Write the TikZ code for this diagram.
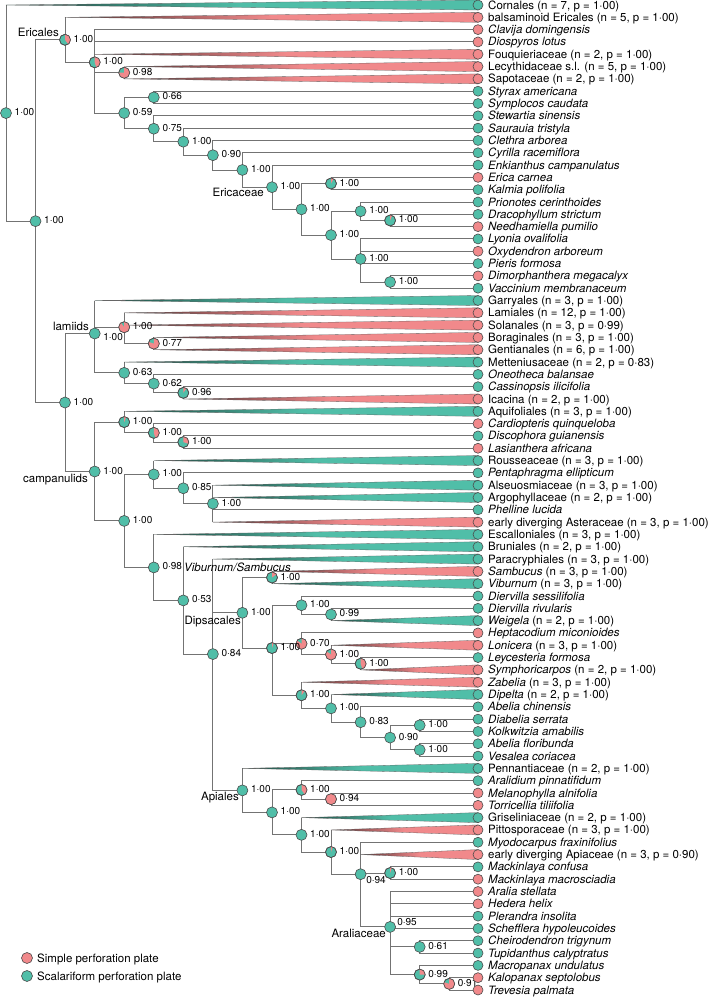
\documentclass[tikz,border=0pt]{standalone}
\usepackage{fontspec}
\setmainfont{TeX Gyre Heros}
\usetikzlibrary{positioning}
\definecolor{pinkplate}{RGB}{241,137,139}
\definecolor{tealplate}{RGB}{80,190,168}

\begin{document}
\begin{tikzpicture}[x=1pt, y=-1pt,
    branch/.style={draw=black!55, line width=0.9pt},
    clade/.style={draw=black!60, line width=0.3pt},
    nodering/.style={draw=black!70, line width=0.6pt},
    tiplabel/.style={inner sep=0pt, font=\fontsize{11.5}{13}\selectfont, text height=9pt, text depth=1pt},
    support/.style={inner sep=0pt, font=\fontsize{10}{12}\selectfont, text height=7pt, text depth=0pt},
    cladename/.style={inner sep=0pt, font=\fontsize{11.5}{13}\selectfont}]
      \path[use as bounding box, fill=white] (0,0) rectangle (711,997);

      % tips
      \foreach \i in {1,...,81}
        \coordinate (t\i) at (478, {5+(\i-1)*12.3125});

      % internal nodes
      \coordinate (nR)  at (6, 113.08);
      \coordinate (nS)  at (35.5, 221.15);
      \coordinate (nA)  at (65, 39.8);
      \coordinate (nB)  at (94.7, 62.32);
      \coordinate (nC)  at (124.2, 72.72);
      \coordinate (nD)  at (124.2, 113.04);
      \coordinate (nE)  at (153.8, 97.34);
      \coordinate (nF)  at (153.8, 128.74);
      \coordinate (nG)  at (183.3, 141.67);
      \coordinate (nH)  at (212.9, 155.2);
      \coordinate (nI)  at (242.4, 169.97);
      \coordinate (nJ)  at (272, 187.19);
      \coordinate (nK)  at (301.5, 209.31);
      \coordinate (nL)  at (331, 183.53);
      \coordinate (nM)  at (331, 235.09);
      \coordinate (nN)  at (360.6, 211.23);
      \coordinate (nP)  at (390.1, 220.47);
      \coordinate (nO)  at (360.6, 258.95);
      \coordinate (nQ)  at (390.1, 282.03);
      \coordinate (nT)  at (65, 402.5);
      \coordinate (nU)  at (94.7, 333.51);
      \coordinate (nW)  at (124.2, 327.18);
      \coordinate (nY)  at (153.8, 343.6);
      \coordinate (nX)  at (124.2, 372.84);
      \coordinate (nZ)  at (153.8, 383.61);
      \coordinate (nAA) at (183.3, 392.85);
      \coordinate (nV)  at (94.7, 471.5);
      \coordinate (nAB) at (124.2, 422.09);
      \coordinate (nAD) at (153.8, 432.86);
      \coordinate (nAE) at (183.3, 442.1);
      \coordinate (nAC) at (124.2, 520.92);
      \coordinate (nAF) at (153.8, 474.41);
      \coordinate (nAH) at (183.3, 488.27);
      \coordinate (nAI) at (212.9, 503.66);
      \coordinate (nAG) at (153.8, 567.43);
      \coordinate (nAJ) at (183.3, 600.42);
      \coordinate (nAK) at (212.9, 654.08);
      \coordinate (nAL) at (242.4, 612.8);
      \coordinate (nAN) at (272, 577.53);
      \coordinate (nAO) at (272, 648.07);
      \coordinate (nAP) at (301.5, 605.24);
      \coordinate (nAS) at (331, 614.47);
      \coordinate (nAQ) at (301.5, 643.71);
      \coordinate (nAT) at (331, 654.49);
      \coordinate (nAU) at (360.6, 663.72);
      \coordinate (nAR) at (301.5, 695.27);
      \coordinate (nAV) at (331, 708.35);
      \coordinate (nAW) at (360.6, 722.2);
      \coordinate (nAX) at (390.1, 737.59);
      \coordinate (nAY) at (419.7, 725.28);
      \coordinate (nAZ) at (419.7, 749.9);
      \coordinate (nAM) at (242.4, 790.38);
      \coordinate (nBA) at (272, 812.39);
      \coordinate (nBB) at (301.5, 789.93);
      \coordinate (nBD) at (331, 799.16);
      \coordinate (nBC) at (301.5, 834.85);
      \coordinate (nBE) at (331, 852.06);
      \coordinate (nBF) at (360.6, 874.19);
      \coordinate (nBG) at (390.1, 873.03);
      \coordinate (nBH) at (390.1, 926.9);
      \coordinate (nBI) at (419.7, 946.9);
      \coordinate (nBJ) at (419.7, 974.61);
      \coordinate (nBK) at (449.2, 983.84);

      % branches
      \foreach \p/\c in {nR/nS, nS/nA, nS/nT, nA/nB, nB/t3, nB/t4, nB/nC, nB/nD,
          nD/nE, nD/nF, nE/t8, nE/t9, nF/t10, nF/nG, nG/t11, nG/nH, nH/t12, nH/nI,
          nI/t13, nI/nJ, nJ/t14, nJ/nK, nK/nL, nK/nM, nL/t15, nL/t16, nM/nN, nM/nO,
          nN/t17, nN/nP, nP/t18, nP/t19, nO/t20, nO/t21, nO/t22, nO/nQ, nQ/t23, nQ/t24,
          nT/nU, nT/nV, nU/nW, nU/nX, nW/nY, nX/nZ, nZ/t31, nZ/nAA, nAA/t32,
          nV/nAB, nV/nAC, nAB/nAD, nAD/t35, nAD/nAE, nAE/t36, nAE/t37, nAC/nAF, nAC/nAG,
          nAF/nAH, nAH/t39, nAH/nAI, nAI/t42, nAG/nAJ, nAJ/nAK, nAK/nAL, nAK/nAM,
          nAL/nAN, nAL/nAO, nAO/nAP, nAO/nAQ, nAO/nAR, nAP/t49, nAP/nAS, nAS/t50,
          nAQ/t52, nAQ/nAT, nAT/nAU, nAU/t54, nAR/nAV, nAV/nAW, nAW/t58, nAW/nAX,
          nAX/nAY, nAX/nAZ, nAY/t59, nAY/t60, nAZ/t61, nAZ/t62,
          nAM/nBA, nBA/nBB, nBA/nBC, nBB/t64, nBB/nBD, nBD/t65, nBD/t66, nBC/nBE,
          nBE/nBF, nBF/t69, nBF/nBG, nBF/nBH, nBG/t71, nBG/t72, nBH/t73, nBH/t74,
          nBH/t75, nBH/t76, nBH/nBI, nBH/nBJ, nBI/t77, nBI/t78, nBJ/t79, nBJ/nBK,
          nBK/t80, nBK/t81}
        \draw[branch] (\p) |- (\c);

      % collapsed clades
      \foreach \p/\t/\col in {nR/t1/tealplate, nA/t2/pinkplate, nB/t5/pinkplate,
          nC/t6/pinkplate, nC/t7/pinkplate, nU/t25/tealplate, nW/t26/pinkplate,
          nW/t27/pinkplate, nY/t28/pinkplate, nY/t29/pinkplate, nX/t30/tealplate,
          nAA/t33/pinkplate, nAB/t34/tealplate, nAF/t38/tealplate, nAI/t40/tealplate,
          nAI/t41/tealplate, nAI/t43/pinkplate, nAG/t44/tealplate, nAJ/t45/tealplate,
          nAK/t46/tealplate, nAN/t47/pinkplate, nAN/t48/tealplate, nAS/t51/tealplate,
          nAT/t53/pinkplate, nAU/t55/pinkplate, nAR/t56/pinkplate, nAV/t57/tealplate,
          nAM/t63/tealplate, nBC/t67/tealplate, nBE/t68/pinkplate, nBF/t70/pinkplate} {
        \draw[branch] (\p) -- (\p |- \t);
        \shade[clade, left color=\col!35!black, right color=\col, middle color=\col]
          (\p |- \t) -- ([yshift=5pt]\t) -- ([yshift=-5pt]\t) -- cycle;
      }

      % node pies
      \foreach \n in {nR,nS,nA,nB,nC,nD,nE,nF,nG,nH,nI,nJ,nK,nL,nM,nN,nP,nO,nQ,
          nT,nU,nW,nY,nX,nZ,nAA,nV,nAB,nAD,nAE,nAC,nAF,nAH,nAI,nAG,nAJ,nAK,nAL,
          nAN,nAO,nAP,nAS,nAQ,nAT,nAU,nAR,nAV,nAW,nAX,nAY,nAZ,
          nAM,nBA,nBB,nBD,nBC,nBE,nBF,nBG,nBH,nBI,nBJ,nBK}
        \draw[nodering, fill=tealplate] (\n) circle[radius=5.5];
      \foreach \n/\f in {nA/0.4, nB/0.45, nC/0.75, nL/0.08, nP/0.06, nW/0.9, nY/0.8,
          nAA/0.1, nAB/0.06, nAD/0.45, nAE/0.3, nAN/0.15, nAO/0.05, nAQ/0.85,
          nAT/0.85, nAU/0.45, nAR/0.1, nBB/0.4, nBD/1, nBE/0.05, nBG/0.05,
          nBJ/0.25, nBK/0.8} {
        \fill[pinkplate] (\n) -- ++(-90:5.5) arc[start angle=-90, delta angle={360*\f}, radius=5.5] -- cycle;
        \draw[nodering] (\n) circle[radius=5.5];
      }

      % support values
      \foreach \n/\v in {nR/1·00, nS/1·00, nA/1·00, nB/1·00, nC/0·98, nD/0·59, nE/0·66,
          nF/0·75, nG/1·00, nH/0·90, nI/1·00, nJ/1·00, nK/1·00, nL/1·00, nM/1·00,
          nN/1·00, nP/1·00, nO/1·00, nQ/1·00, nT/1·00, nW/1·00, nY/0·77,
          nX/0·63, nZ/0·62, nAA/0·96, nV/1·00, nAB/1·00, nAD/1·00, nAE/1·00, nAC/1·00,
          nAF/1·00, nAH/0·85, nAI/1·00, nAG/0·98, nAJ/0·53, nAK/0·84, nAL/1·00,
          nAN/1·00, nAO/1·00, nAP/1·00, nAS/0·99, nAQ/0·70, nAT/1·00, nAU/1·00,
          nAR/1·00, nAV/1·00, nAW/0·83, nAX/0·90, nAY/1·00, nAZ/1·00, nAM/1·00,
          nBA/1·00, nBB/1·00, nBD/0·94, nBC/1·00, nBE/1·00, nBG/1·00, nBI/0·61,
          nBJ/0·99, nBK/0·91}
        \node[support, right=8.5pt of \n, yshift=1pt] (s\n) {\v};
      \node[support, right=8.5pt of nU, yshift=-3pt] (snU) {1·00};
      \node[support, right=5.5pt of nBF, yshift=-6pt] (snBF) {0·94};
      \node[support, right=7pt of nBH, yshift=5pt] (snBH) {0·95};

      % clade names
      \node[cladename, anchor=east] (cEricales) at (59,32) {Ericales};
      \node[cladename, anchor=east] (cEricaceae) at (264,192) {Ericaceae};
      \node[cladename, anchor=east] (clamiids) at (89,326) {lamiids};
      \node[cladename, anchor=east] (ccampanulids) at (88,480) {campanulids};
      \node[cladename, anchor=west] (cViburnum) at (184,567) {\textit{Viburnum/Sambucus}};
      \node[cladename, anchor=east] (cDipsacales) at (241,622) {Dipsacales};
      \node[cladename, anchor=east] (cApiales) at (239,798) {Apiales};
      \node[cladename, anchor=east] (cAraliaceae) at (386,933) {Araliaceae};

      % tip dots and names
      \foreach \i/\col/\txt in {
          1/tealplate/{Cornales (n = 7, p = 1·00)},
          2/pinkplate/{balsaminoid Ericales (n = 5, p = 1·00)},
          3/pinkplate/{\textit{Clavija domingensis}},
          4/pinkplate/{\textit{Diospyros lotus}},
          5/pinkplate/{Fouquieriaceae (n = 2, p = 1·00)},
          6/pinkplate/{Lecythidaceae s.l. (n = 5, p = 1·00)},
          7/pinkplate/{Sapotaceae (n = 2, p = 1·00)},
          8/tealplate/{\textit{Styrax americana}},
          9/tealplate/{\textit{Symplocos caudata}},
          10/tealplate/{\textit{Stewartia sinensis}},
          11/tealplate/{\textit{Saurauia tristyla}},
          12/tealplate/{\textit{Clethra arborea}},
          13/tealplate/{\textit{Cyrilla racemiflora}},
          14/tealplate/{\textit{Enkianthus campanulatus}},
          15/pinkplate/{\textit{Erica carnea}},
          16/tealplate/{\textit{Kalmia polifolia}},
          17/tealplate/{\textit{Prionotes cerinthoides}},
          18/tealplate/{\textit{Dracophyllum strictum}},
          19/pinkplate/{\textit{Needhamiella pumilio}},
          20/tealplate/{\textit{Lyonia ovalifolia}},
          21/pinkplate/{\textit{Oxydendron arboreum}},
          22/tealplate/{\textit{Pieris formosa}},
          23/pinkplate/{\textit{Dimorphanthera megacalyx}},
          24/tealplate/{\textit{Vaccinium membranaceum}},
          25/tealplate/{Garryales (n = 3, p = 1·00)},
          26/pinkplate/{Lamiales (n = 12, p = 1·00)},
          27/pinkplate/{Solanales (n = 3, p = 0·99)},
          28/pinkplate/{Boraginales (n = 3, p = 1·00)},
          29/pinkplate/{Gentianales (n = 6, p = 1·00)},
          30/tealplate/{Metteniusaceae (n = 2, p = 0·83)},
          31/tealplate/{\textit{Oneotheca balansae}},
          32/tealplate/{\textit{Cassinopsis ilicifolia}},
          33/pinkplate/{Icacina (n = 2, p = 1·00)},
          34/tealplate/{Aquifoliales (n = 3, p = 1·00)},
          35/pinkplate/{\textit{Cardiopteris quinqueloba}},
          36/tealplate/{\textit{Discophora guianensis}},
          37/pinkplate/{\textit{Lasianthera africana}},
          38/tealplate/{Rousseaceae (n = 3, p = 1·00)},
          39/tealplate/{\textit{Pentaphragma ellipticum}},
          40/tealplate/{Alseuosmiaceae (n = 3, p = 1·00)},
          41/tealplate/{Argophyllaceae (n = 2, p = 1·00)},
          42/tealplate/{\textit{Phelline lucida}},
          43/pinkplate/{early diverging Asteraceae (n = 3, p = 1·00)},
          44/tealplate/{Escalloniales (n = 3, p = 1·00)},
          45/tealplate/{Bruniales (n = 2, p = 1·00)},
          46/tealplate/{Paracryphiales (n = 3, p = 1·00)},
          47/pinkplate/{\textit{Sambucus} (n = 3, p = 1·00)},
          48/tealplate/{\textit{Viburnum} (n = 3, p = 1·00)},
          49/tealplate/{\textit{Diervilla sessilifolia}},
          50/tealplate/{\textit{Diervilla rivularis}},
          51/tealplate/{\textit{Weigela} (n = 2, p = 1·00)},
          52/pinkplate/{\textit{Heptacodium miconioides}},
          53/pinkplate/{\textit{Lonicera} (n = 3, p = 1·00)},
          54/tealplate/{\textit{Leycesteria formosa}},
          55/pinkplate/{\textit{Symphoricarpos} (n = 2, p = 1·00)},
          56/pinkplate/{\textit{Zabelia} (n = 3, p = 1·00)},
          57/tealplate/{\textit{Dipelta} (n = 2, p = 1·00)},
          58/tealplate/{\textit{Abelia chinensis}},
          59/tealplate/{\textit{Diabelia serrata}},
          60/tealplate/{\textit{Kolkwitzia amabilis}},
          61/tealplate/{\textit{Abelia floribunda}},
          62/tealplate/{\textit{Vesalea coriacea}},
          63/tealplate/{Pennantiaceae (n = 2, p = 1·00)},
          64/tealplate/{\textit{Aralidium pinnatifidum}},
          65/pinkplate/{\textit{Melanophylla alnifolia}},
          66/pinkplate/{\textit{Torricellia tiliifolia}},
          67/tealplate/{Griseliniaceae (n = 2, p = 1·00)},
          68/pinkplate/{Pittosporaceae (n = 3, p = 1·00)},
          69/tealplate/{\textit{Myodocarpus fraxinifolius}},
          70/pinkplate/{early diverging Apiaceae (n = 3, p = 0·90)},
          71/tealplate/{\textit{Mackinlaya confusa}},
          72/pinkplate/{\textit{Mackinlaya macrosciadia}},
          73/pinkplate/{\textit{Aralia stellata}},
          74/pinkplate/{\textit{Hedera helix}},
          75/tealplate/{\textit{Plerandra insolita}},
          76/tealplate/{\textit{Schefflera hypoleucoides}},
          77/tealplate/{\textit{Cheirodendron trigynum}},
          78/tealplate/{\textit{Tupidanthus calyptratus}},
          79/tealplate/{\textit{Macropanax undulatus}},
          80/pinkplate/{\textit{Kalopanax septolobus}},
          81/pinkplate/{\textit{Trevesia palmata}}} {
        \draw[nodering, fill=\col] (t\i) circle[radius=5];
        \node[tiplabel, right=10pt of t\i] (l\i) {\txt};
      }

      % key
      \coordinate (keysimple) at (27,958);
      \coordinate (keyscalar) at (27,976);
      \draw[nodering, fill=pinkplate] (keysimple) circle[radius=5.5];
      \draw[nodering, fill=tealplate] (keyscalar) circle[radius=5.5];
      \node[tiplabel, right=10pt of keysimple] (lkeysimple) {Simple perforation plate};
      \node[tiplabel, right=10pt of keyscalar] (lkeyscalar) {Scalariform perforation plate};
    \end{tikzpicture}
\end{document}
